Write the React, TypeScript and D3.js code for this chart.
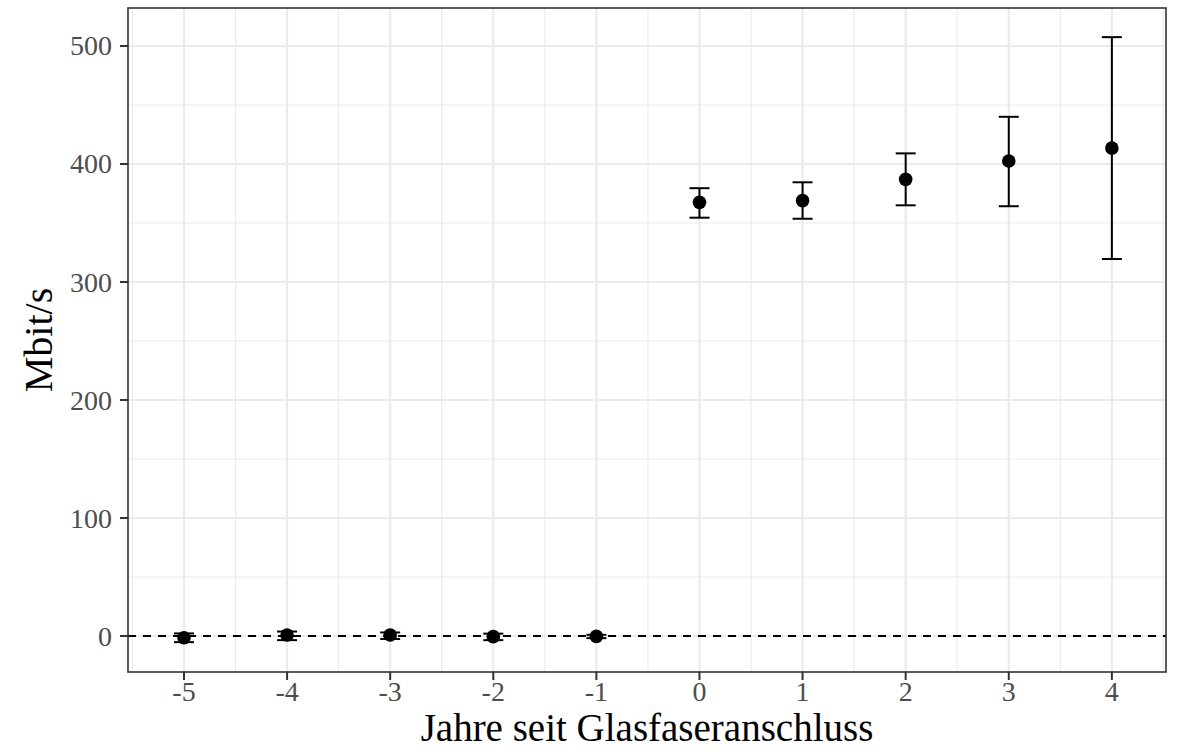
import React from "react";
import * as d3 from "d3";

const years = [-5, -4, -3, -2, -1, 0, 1, 2, 3, 4];
const estimates = [-1.5, 0.8, 0.8, -0.5, -0.3, 367.5, 369, 387, 402.5, 413.5];
const lowerCI = [-5.2, -3.5, -2.5, -3.5, -1.8, 354.5, 353.6, 365, 364.2, 319.5];
const upperCI = [2.2, 3.8, 3, 2, 1, 379.5, 384.5, 409, 440, 507.5];
const yTicks = [0, 100, 200, 300, 400, 500];
const yMinor = [50, 150, 250, 350, 450];
const xMinor = [-5.5, -4.5, -3.5, -2.5, -1.5, -0.5, 0.5, 1.5, 2.5, 3.5, 4.5];

const W = 1183;
const H = 752;
const L = 128, R = 1166, T = 8, B = 672;
const FONT = "'Liberation Serif', 'Times New Roman', serif";

export default function App() {
  const x = d3.scaleLinear().domain([-5.543, 4.525]).range([L, R]);
  const y = d3.scaleLinear().domain([-30.5, 532.2]).range([B, T]);
  const grid = "#EBEBEB";
  return (
    <svg width={W} height={H} style={{ position: "absolute", left: 0, top: 0 }} fontFamily={FONT}>
      <rect x={0} y={0} width={W} height={H} fill="#fff" />
      {yMinor.map((v) => (
        <line key={"ym" + v} x1={L} x2={R} y1={y(v)} y2={y(v)} stroke={grid} strokeWidth={1.1} />
      ))}
      {xMinor.map((v) => (
        <line key={"xm" + v} x1={x(v)} x2={x(v)} y1={T} y2={B} stroke={grid} strokeWidth={1.1} />
      ))}
      {yTicks.map((v) => (
        <line key={"yM" + v} x1={L} x2={R} y1={y(v)} y2={y(v)} stroke={grid} strokeWidth={2.2} />
      ))}
      {years.map((v) => (
        <line key={"xM" + v} x1={x(v)} x2={x(v)} y1={T} y2={B} stroke={grid} strokeWidth={2.2} />
      ))}
      <line x1={L} x2={R} y1={y(0)} y2={y(0)} stroke="#000" strokeWidth={2.2} strokeDasharray="8,7" />
      {years.map((v, i) => (
        <g key={"e" + v}>
          <line x1={x(v)} x2={x(v)} y1={y(lowerCI[i])} y2={y(upperCI[i])} stroke="#000" strokeWidth={2} />
          <line x1={x(v) - 10} x2={x(v) + 10} y1={y(lowerCI[i])} y2={y(lowerCI[i])} stroke="#000" strokeWidth={2} />
          <line x1={x(v) - 10} x2={x(v) + 10} y1={y(upperCI[i])} y2={y(upperCI[i])} stroke="#000" strokeWidth={2} />
          <circle cx={x(v)} cy={y(estimates[i])} r={6.8} fill="#000" />
        </g>
      ))}
      <rect x={L} y={T} width={R - L} height={B - T} fill="none" stroke="#333" strokeWidth={1.6} />
      {yTicks.map((v) => (
        <g key={"yt" + v}>
          <line x1={L - 8} x2={L} y1={y(v)} y2={y(v)} stroke="#333" strokeWidth={2} />
          <text x={L - 16} y={y(v) + 9.5} textAnchor="end" fontSize={28} fill="#4D4D4D">{v}</text>
        </g>
      ))}
      {years.map((v) => (
        <g key={"xt" + v}>
          <line x1={x(v)} x2={x(v)} y1={B} y2={B + 8} stroke="#333" strokeWidth={2} />
          <text x={x(v)} y={B + 29} textAnchor="middle" fontSize={28} fill="#4D4D4D">{v}</text>
        </g>
      ))}
      <text x={(L + R) / 2} y={741} textAnchor="middle" fontSize={39} fill="#000">Jahre seit Glasfaseranschluss</text>
      <text transform={`translate(52,${(T + B) / 2}) rotate(-90)`} textAnchor="middle" fontSize={40} fill="#000">Mbit/s</text>
    </svg>
  );
}
